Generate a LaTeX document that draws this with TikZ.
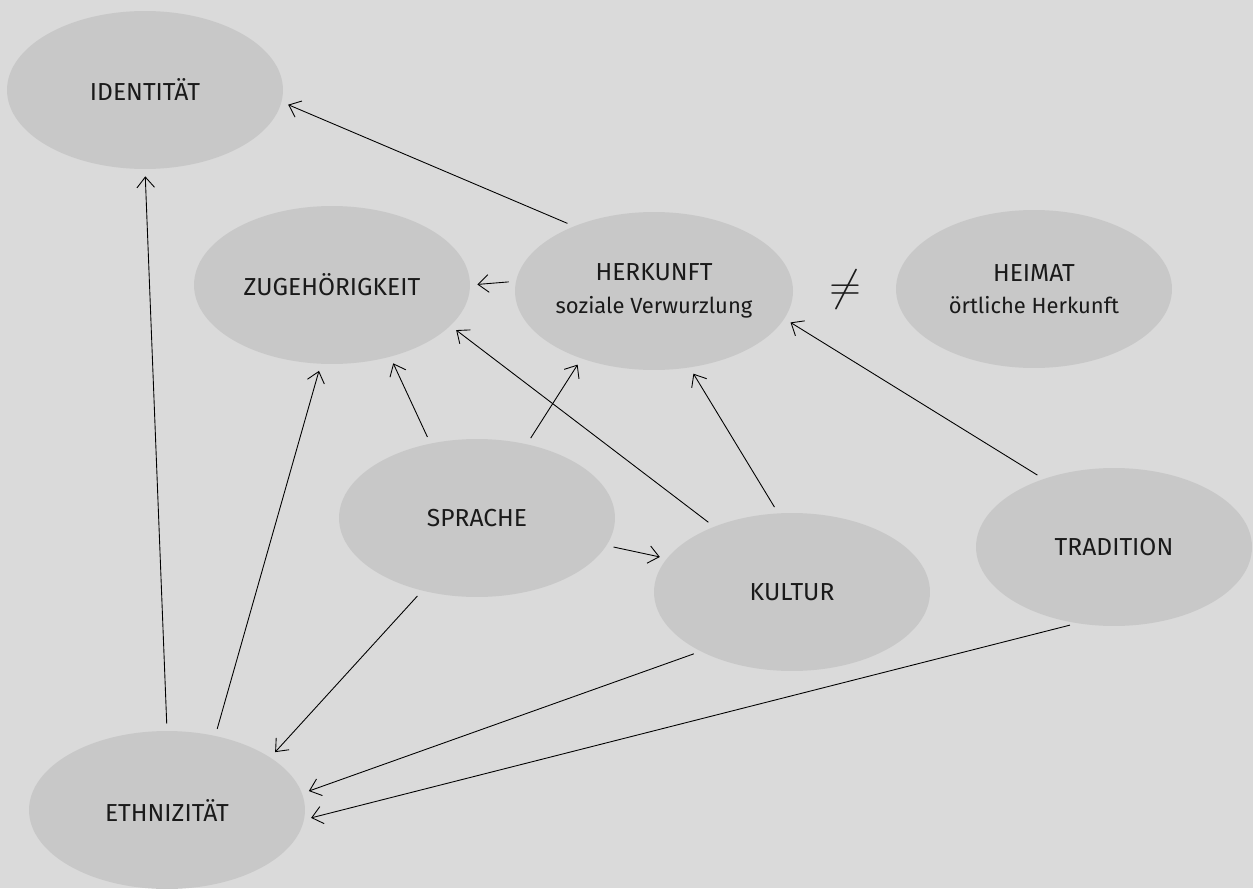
\documentclass[tikz,border=0pt]{standalone}
\usepackage{fontspec}
\setmainfont{Fira Sans}
\usetikzlibrary{shapes.geometric,arrows.meta}
\definecolor{bggray}{HTML}{DADADA}
\definecolor{bubblegray}{HTML}{C8C8C8}
\definecolor{inkgray}{HTML}{1A1A1A}
\tikzset{
  bubble/.style={ellipse, fill=bubblegray, minimum width=5.52cm, minimum height=3.16cm,
    inner sep=0pt, align=center, text=inkgray, font=\fontsize{14}{18.5}\selectfont},
  link/.style={->, >={Straight Barb[length=6pt,width=10pt]}, line width=0.5pt,
    shorten <=4pt, shorten >=4pt},
}
\newcommand{\subline}[1]{{\fontsize{12.5}{18.5}\selectfont #1}}
\begin{document}
\begin{tikzpicture}[x=0.02cm,y=-0.02cm]
  \fill[bggray] (0,0) rectangle (1253,888);

  \node[bubble] (ident) at (145,90) {IDENTITÄT};
  \node[bubble] (zug) at (332,285) {ZUGEHÖRIGKEIT};
  \node[bubble] (herk) at (654,291) {HERKUNFT\\\subline{soziale Verwurzlung}};
  \node[bubble] (heim) at (1034,289) {HEIMAT\\\subline{örtliche Herkunft}};
  \node[bubble] (spra) at (477,518) {SPRACHE};
  \node[bubble] (kult) at (792,592) {KULTUR};
  \node[bubble] (trad) at (1114,547) {TRADITION};
  \node[bubble] (ethn) at (167,810) {ETHNIZITÄT};

  \node[text=inkgray, font=\fontsize{24}{24}\selectfont] (neq) at (845,290) {$\neq$};

  \draw[link] (herk.141) -- (ident.-5);
  \draw[link] (ethn.90) -- (ident.-90);
  \draw[link] (herk.176) -- (zug.0);
  \draw[link] (ethn.57) -- (zug.-98);
  \draw[link] (spra.122) -- (zug.-51);
  \draw[link] (spra.56) -- (herk.-137);
  \draw[link] (kult.140) -- (zug.-19);
  \draw[link] (kult.100) -- (herk.-65);
  \draw[link] (trad.136) -- (herk.-12);
  \draw[link] (spra.-12) -- (kult.165);
  \draw[link] (spra.-127) -- (ethn.27);
  \draw[link] (kult.-147) -- (ethn.7);
  \draw[link] (trad.-116) -- (ethn.-4);
\end{tikzpicture}
\end{document}
